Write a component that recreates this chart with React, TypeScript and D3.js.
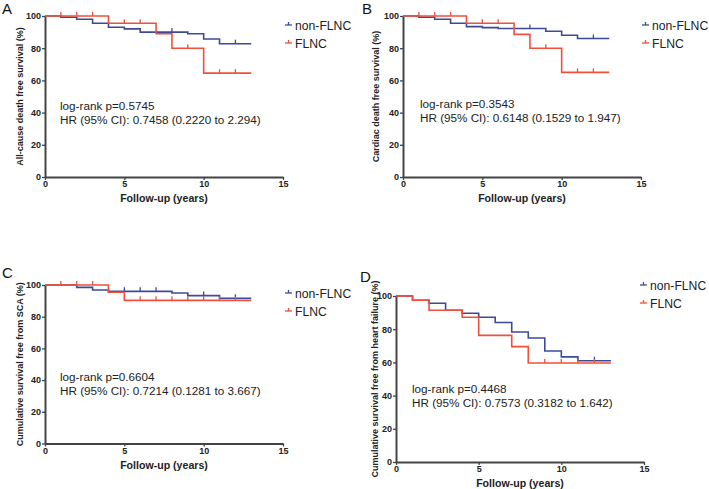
import React, { useEffect, useRef } from "react";
import * as d3 from "d3";

// tick values and legend names
const xTicks = [0, 5, 10, 15];
const yTicks = [0, 20, 40, 60, 80, 100];
const seriesNames = ["non-FLNC", "FLNC"];
const endTime = 13;

// A: all-cause death
const aBlueT = [0, 1, 2, 3, 4, 5, 6, 9, 10, 11];
const aBlueS = [100, 99.2, 98, 95.5, 93, 92, 90, 89, 85.7, 82.8];
const aBlueC = [8, 12];
const aRedT = [0, 4, 7, 8, 10];
const aRedS = [100, 95.5, 89, 80, 64.5];
const aRedC = [1, 2, 3, 5, 6, 9, 11, 12];

// B: cardiac death
const bBlueT = [0, 1, 2, 3, 4, 5, 6, 9, 10, 11];
const bBlueS = [100, 99.2, 98, 95.5, 93.4, 92.8, 92.2, 90.5, 88, 86];
const bBlueC = [8, 12];
const bRedT = [0, 4, 7, 8, 10];
const bRedS = [100, 95.5, 88.6, 80, 65];
const bRedC = [1, 2, 3, 5, 6, 9, 11, 12];

// C: SCA
const cBlueT = [0, 2, 3, 4, 8, 9, 11];
const cBlueS = [100, 98.5, 96.8, 96, 95, 93.3, 91.6];
const cBlueC = [5, 6, 7, 10, 12];
const cRedT = [0, 4, 5];
const cRedS = [100, 95.4, 90.3];
const cRedC = [1, 2, 3, 6, 7, 8, 9, 10, 11, 12];

// D: heart failure
const dBlueT = [0, 1, 2, 3, 4, 5, 6, 7, 8, 9, 10, 11];
const dBlueS = [100, 97.4, 95.6, 91.4, 89.6, 87.2, 84, 78.3, 74.7, 66.9, 63.3, 61];
const dBlueC = [12];
const dRedT = [0, 1, 2, 4, 5, 7, 8];
const dRedS = [100, 97.4, 91.4, 87.2, 76.3, 69.5, 59.6];
const dRedC = [9, 10, 11, 12];

const BLUE = "#3d4a9a";
const RED = "#f0503a";
const AXIS = "#444";
const FONT = "Arial, 'Liberation Sans', sans-serif";

type Series = { t: number[]; s: number[]; c: number[]; color: string };

const Panel = (props: any) => {
  const xRef = useRef<SVGGElement>(null);
  const yRef = useRef<SVGGElement>(null);
  const { x0, x1, yTop, yBot } = props;

  const x = d3.scaleLinear().domain([0, 15]).range([x0, x1]);
  const y = d3.scaleLinear().domain([0, 100]).range([yBot, yTop]);

  useEffect(() => {
    const gx = d3.select(xRef.current as SVGGElement);
    gx.selectAll("*").remove();
    gx.call(d3.axisBottom(x).tickValues(xTicks).tickSize(3).tickSizeOuter(0).tickPadding(1) as any);
    const gy = d3.select(yRef.current as SVGGElement);
    gy.selectAll("*").remove();
    gy.call(d3.axisLeft(y).tickValues(yTicks).tickSize(3).tickSizeOuter(0).tickPadding(1) as any);
    [gx, gy].forEach((g) => {
      g.select(".domain").attr("stroke", AXIS).attr("stroke-width", 2);
      g.selectAll(".tick line").attr("stroke", AXIS).attr("stroke-width", 1.3);
      g.selectAll(".tick text")
        .attr("fill", "#222")
        .style("font-family", FONT)
        .style("font-size", "9px")
        .style("font-weight", "bold");
    });
  }, [x0, x1, yTop, yBot]);

  const line = d3
    .line<[number, number]>()
    .x((d) => x(d[0]))
    .y((d) => y(d[1]))
    .curve(d3.curveStepAfter);

  const valueAt = (sr: Series, t: number) => sr.s[d3.bisectRight(sr.t, t) - 1];

  const series: Series[] = props.series;

  return (
    <g>
      <text x={props.lx} y={props.ly} style={{ fontFamily: FONT, fontSize: 15 }} fill="#111">
        {props.letter}
      </text>
      <g ref={xRef} transform={`translate(0,${yBot})`} />
      <g ref={yRef} transform={`translate(${x0},0)`} />
      {series.map((sr, i) => {
        const pts: [number, number][] = sr.t.map((t, j) => [t, sr.s[j]] as [number, number]);
        pts.push([endTime, sr.s[sr.s.length - 1]]);
        return (
          <g key={i}>
            <path d={line(pts) || ""} fill="none" stroke={sr.color} strokeWidth={1.6} />
            {sr.c.map((ct, k) => (
              <line
                key={k}
                x1={x(ct)}
                x2={x(ct)}
                y1={y(valueAt(sr, ct))}
                y2={y(valueAt(sr, ct)) - 4}
                stroke={sr.color}
                strokeWidth={1.3}
              />
            ))}
          </g>
        );
      })}
      <text
        transform={`translate(${props.ylx},${(yTop + yBot) / 2}) rotate(-90)`}
        textAnchor="middle"
        style={{ fontFamily: FONT, fontSize: 9, fontWeight: "bold" }}
        fill="#222"
      >
        {props.yLabel}
      </text>
      <text
        x={(x0 + x1) / 2}
        y={yBot + 25}
        textAnchor="middle"
        style={{ fontFamily: FONT, fontSize: 10.6, fontWeight: "bold" }}
        fill="#222"
      >
        Follow-up (years)
      </text>
      {props.notes.map((n: string, i: number) => (
        <text
          key={i}
          x={props.nx}
          y={props.ny + i * 14}
          style={{ fontFamily: FONT, fontSize: 11.7 }}
          fill="#222"
        >
          {n}
        </text>
      ))}
      {seriesNames.map((name, i) => (
        <g key={name} transform={`translate(${props.legX},${props.legY + i * 18})`}>
          <line x1={0} x2={7} y1={0} y2={0} stroke={series[i].color} strokeWidth={1.3} />
          <line x1={3.5} x2={3.5} y1={0} y2={-3} stroke={series[i].color} strokeWidth={1.3} />
          <text x={10} y={4.5} style={{ fontFamily: FONT, fontSize: 12.2 }} fill="#222">
            {name}
          </text>
        </g>
      ))}
    </g>
  );
};

const App = () => {
  return (
    <svg width={709} height={489} style={{ position: "absolute", left: 0, top: 0, background: "#fff" }}>
      <Panel
        letter="A"
        lx={2}
        ly={14}
        x0={45}
        x1={283}
        yTop={16}
        yBot={177}
        ylx={23}
        yLabel="All-cause death free survival (%)"
        nx={60}
        ny={110}
        notes={["log-rank p=0.5745", "HR (95% CI): 0.7458 (0.2220 to 2.294)"]}
        legX={285}
        legY={25}
        series={[
          { t: aBlueT, s: aBlueS, c: aBlueC, color: BLUE },
          { t: aRedT, s: aRedS, c: aRedC, color: RED },
        ]}
      />
      <Panel
        letter="B"
        lx={362}
        ly={14}
        x0={403}
        x1={641}
        yTop={16}
        yBot={177}
        ylx={379}
        yLabel="Cardiac death free survival (%)"
        nx={420}
        ny={108}
        notes={["log-rank p=0.3543", "HR (95% CI): 0.6148 (0.1529 to 1.947)"]}
        legX={642}
        legY={25}
        series={[
          { t: bBlueT, s: bBlueS, c: bBlueC, color: BLUE },
          { t: bRedT, s: bRedS, c: bRedC, color: RED },
        ]}
      />
      <Panel
        letter="C"
        lx={2}
        ly={278}
        x0={45}
        x1={283}
        yTop={285}
        yBot={443.5}
        ylx={23}
        yLabel="Cumulative survival free from SCA (%)"
        nx={60}
        ny={381}
        notes={["log-rank p=0.6604", "HR (95% CI): 0.7214 (0.1281 to 3.667)"]}
        legX={285}
        legY={293}
        series={[
          { t: cBlueT, s: cBlueS, c: cBlueC, color: BLUE },
          { t: cRedT, s: cRedS, c: cRedC, color: RED },
        ]}
      />
      <Panel
        letter="D"
        lx={360}
        ly={282}
        x0={396}
        x1={644}
        yTop={296}
        yBot={462}
        ylx={378}
        yLabel="Cumulative survival free from heart failure (%)"
        nx={412}
        ny={392.5}
        notes={["log-rank p=0.4468", "HR (95% CI): 0.7573 (0.3182 to 1.642)"]}
        legX={640}
        legY={285}
        series={[
          { t: dBlueT, s: dBlueS, c: dBlueC, color: BLUE },
          { t: dRedT, s: dRedS, c: dRedC, color: RED },
        ]}
      />
    </svg>
  );
};

export default App;
